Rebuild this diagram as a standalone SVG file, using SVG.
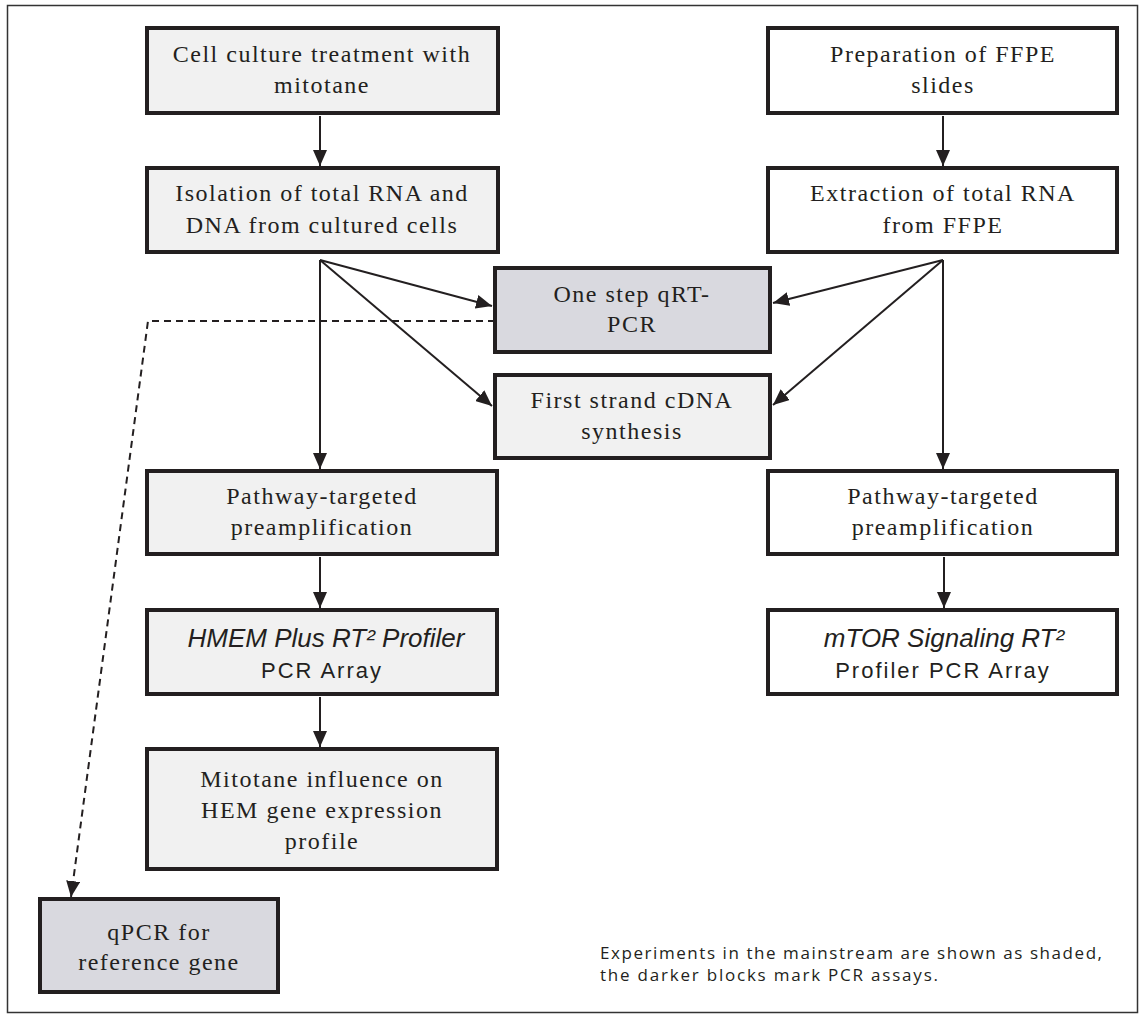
<svg xmlns="http://www.w3.org/2000/svg" width="1143" height="1020" viewBox="0 0 1143 1020">
<defs>
<style>
.box{stroke:#231f20;stroke-width:4}
.light{fill:#f1f1f1}
.dark{fill:#d9d9df}
.white{fill:#ffffff}
.t{font-family:"Liberation Serif","Times New Roman",serif;font-size:24px;letter-spacing:1.5px;fill:#231f20;text-anchor:middle}
.it{font-family:"Liberation Sans",Arial,sans-serif;font-style:italic;font-size:26px;fill:#231f20;text-anchor:middle}
.s{font-family:"Liberation Sans",Arial,sans-serif;font-size:22px;letter-spacing:2px;fill:#231f20;text-anchor:middle}
.note{font-family:"Open Sans","Liberation Sans",sans-serif;font-size:17px;fill:#231f20}
.c{stroke:#231f20;stroke-width:2;fill:none}
.d{stroke:#231f20;stroke-width:2;fill:none;stroke-dasharray:7,5}
</style>
<marker id="ah" markerUnits="userSpaceOnUse" markerWidth="16" markerHeight="14" refX="16" refY="7" orient="auto">
<path d="M0,0 L16,7 L0,14 Z" fill="#231f20"/>
</marker>
</defs>
<rect x="7.5" y="5.5" width="1130" height="1007" fill="#ffffff" stroke="#333" stroke-width="1.5"/>

<g id="connectors">
<line class="c" x1="320" y1="116" x2="320" y2="166" marker-end="url(#ah)"/>
<line class="c" x1="943" y1="116" x2="943" y2="166" marker-end="url(#ah)"/>
<line class="c" x1="320" y1="260" x2="320" y2="469" marker-end="url(#ah)"/>
<line class="c" x1="320" y1="260" x2="492" y2="306" marker-end="url(#ah)"/>
<line class="c" x1="320" y1="260" x2="492" y2="406" marker-end="url(#ah)"/>
<line class="c" x1="943" y1="260" x2="943" y2="469" marker-end="url(#ah)"/>
<line class="c" x1="943" y1="260" x2="773" y2="303" marker-end="url(#ah)"/>
<line class="c" x1="943" y1="260" x2="773" y2="405" marker-end="url(#ah)"/>
<line class="c" x1="320" y1="557" x2="320" y2="608" marker-end="url(#ah)"/>
<line class="c" x1="944" y1="557" x2="944" y2="608" marker-end="url(#ah)"/>
<line class="c" x1="320" y1="697" x2="320" y2="747" marker-end="url(#ah)"/>
<polyline class="d" points="495,321 148,321 71,897" marker-end="url(#ah)"/>
</g>

<g id="cell-culture">
<rect class="box light" x="147" y="28" width="351" height="85"/>
<text class="t" x="322" y="62">Cell culture treatment with</text>
<text class="t" x="322" y="93">mitotane</text>
</g>
<g id="isolation">
<rect class="box light" x="147" y="168" width="351" height="84"/>
<text class="t" x="322" y="201">Isolation of total RNA and</text>
<text class="t" x="322" y="233">DNA from cultured cells</text>
</g>
<g id="ffpe-prep">
<rect class="box white" x="768" y="28" width="349" height="85"/>
<text class="t" x="943" y="62">Preparation of FFPE</text>
<text class="t" x="943" y="93">slides</text>
</g>
<g id="extraction">
<rect class="box white" x="768" y="168" width="349" height="84"/>
<text class="t" x="943" y="201">Extraction of total RNA</text>
<text class="t" x="943" y="233">from FFPE</text>
</g>
<g id="one-step">
<rect class="box dark" x="495" y="268" width="275" height="84"/>
<text class="t" x="632" y="302">One step qRT-</text>
<text class="t" x="632" y="332">PCR</text>
</g>
<g id="first-strand">
<rect class="box light" x="495" y="375" width="275" height="83"/>
<text class="t" x="632" y="408">First strand cDNA</text>
<text class="t" x="632" y="439">synthesis</text>
</g>
<g id="pathway-left">
<rect class="box light" x="147" y="471" width="350" height="83"/>
<text class="t" x="322" y="504">Pathway-targeted</text>
<text class="t" x="322" y="535">preamplification</text>
</g>
<g id="pathway-right">
<rect class="box white" x="768" y="471" width="349" height="83"/>
<text class="t" x="943" y="504">Pathway-targeted</text>
<text class="t" x="943" y="535">preamplification</text>
</g>
<g id="hmem">
<rect class="box light" x="147" y="610" width="350" height="84"/>
<text class="it" x="326" y="647">HMEM Plus RT² Profiler</text>
<text class="s" x="322" y="678">PCR Array</text>
</g>
<g id="mtor">
<rect class="box white" x="768" y="610" width="349" height="84"/>
<text class="it" x="944" y="647">mTOR Signaling RT²</text>
<text class="s" x="943" y="678">Profiler PCR Array</text>
</g>
<g id="mitotane-influence">
<rect class="box light" x="147" y="749" width="350" height="120"/>
<text class="t" x="322" y="787">Mitotane influence on</text>
<text class="t" x="322" y="818">HEM gene expression</text>
<text class="t" x="322" y="849">profile</text>
</g>
<g id="qpcr-reference">
<rect class="box dark" x="40" y="899" width="238" height="93"/>
<text class="t" x="159" y="940">qPCR for</text>
<text class="t" x="159" y="970">reference gene</text>
</g>
<g id="footnote">
<text class="note" x="600" y="959" textLength="502" lengthAdjust="spacing">Experiments in the mainstream are shown as shaded,</text>
<text class="note" x="600" y="981" textLength="338" lengthAdjust="spacing">the darker blocks mark PCR assays.</text>
</g>
</svg>
